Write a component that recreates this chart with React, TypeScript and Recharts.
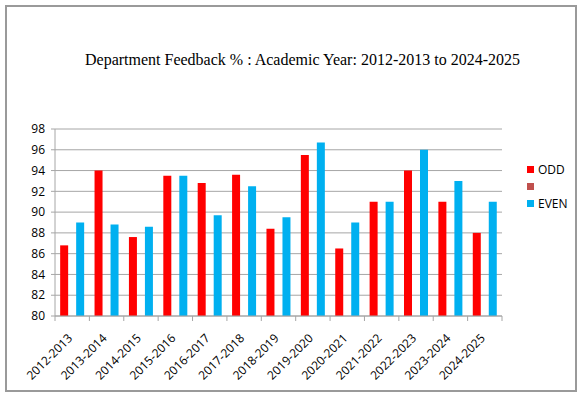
import React from 'react';
import { BarChart, Bar, XAxis, YAxis, CartesianGrid, Legend } from 'recharts';

const COLORS = {
  odd: '#ff0000',
  blank: '#c0504d',
  even: '#00b0f0',
  grid: '#a6a6a6',
  frame: '#9a9a9a',
  text: '#000000',
};

const years = [
  '2012-2013', '2013-2014', '2014-2015', '2015-2016', '2016-2017', '2017-2018', '2018-2019',
  '2019-2020', '2020-2021', '2021-2022', '2022-2023', '2023-2024', '2024-2025',
];
const oddValues = [86.8, 94, 87.6, 93.5, 92.8, 93.6, 88.4, 95.5, 86.5, 91, 94, 91, 88];
const evenValues = [89, 88.8, 88.6, 93.5, 89.7, 92.5, 89.5, 96.7, 89, 91, 96, 93, 91];
const yTicks = [80, 82, 84, 86, 88, 90, 92, 94, 96, 98];
const seriesOrder = ['odd', 'blank', 'even'];

const data = years.map((year, i) => ({
  year,
  odd: oddValues[i],
  blank: null,
  even: evenValues[i],
}));

const FONT = '"Open Sans", "Liberation Sans", sans-serif';

const XTick = (props: any) => {
  const { x, y, payload, index } = props;
  const half = payload.offset || 0;
  return (
    <g>
      <line x1={x - half} y1={y} x2={x - half} y2={y + 5} stroke={COLORS.grid} />
      {index === years.length - 1 && (
        <line x1={x + half} y1={y} x2={x + half} y2={y + 5} stroke={COLORS.grid} />
      )}
      <text
        x={x + 1}
        y={y + 23}
        textAnchor="end"
        transform={`rotate(-45, ${x + 1}, ${y + 23})`}
        fontSize={12}
        fontFamily={FONT}
        fill={COLORS.text}
      >
        {payload.value}
      </text>
    </g>
  );
};

const LegendContent = (props: any) => {
  const items = [...(props.payload || [])].sort(
    (a: any, b: any) => seriesOrder.indexOf(a.dataKey) - seriesOrder.indexOf(b.dataKey)
  );
  return (
    <div style={{ fontFamily: FONT, fontSize: 12 }}>
      {items.map((entry: any, i: number) => (
        <div key={i} style={{ display: 'flex', alignItems: 'center', height: 17 }}>
          <span style={{ width: 7, height: 7, backgroundColor: entry.color, display: 'inline-block', marginRight: 4 }} />
          <span>{entry.value}</span>
        </div>
      ))}
    </div>
  );
};

export default function App() {
  return (
    <div style={{ position: 'absolute', left: 0, top: 0, width: 583, height: 398, background: '#fff' }}>
      <div
        style={{
          position: 'absolute', left: 5, top: 5, width: 572, height: 387,
          border: `2px solid ${COLORS.frame}`, boxSizing: 'border-box',
        }}
      />
      <div
        style={{
          position: 'absolute', left: 0, top: 51, width: 605, textAlign: 'center',
          fontFamily: '"Liberation Serif", "Times New Roman", serif', fontSize: 16, color: '#000',
        }}
      >
        Department Feedback % : Academic Year: 2012-2013 to 2024-2025
      </div>
      <BarChart
        width={583}
        height={398}
        data={data}
        margin={{ top: 129, right: 25, left: 0, bottom: 0 }}
        barCategoryGap="15%"
        barGap={0}
        style={{ position: 'absolute', left: 0, top: 0 }}
      >
        <CartesianGrid vertical={false} stroke={COLORS.grid} />
        <XAxis
          dataKey="year"
          interval={0}
          height={82}
          tickLine={false}
          tickSize={0}
          tickMargin={0}
          stroke={COLORS.grid}
          tick={<XTick />}
        />
        <YAxis
          domain={[80, 98]}
          ticks={yTicks}
          interval={0}
          width={55}
          stroke={COLORS.grid}
          tickSize={4}
          tickMargin={6}
          tick={{ fill: COLORS.text, fontSize: 12, fontFamily: FONT }}
        />
        <Legend
          layout="horizontal"
          verticalAlign="middle"
          align="right"
          content={<LegendContent />}
          wrapperStyle={{ position: 'absolute', left: 527, top: 161, width: 56 }}
        />
        <Bar dataKey="odd" name="ODD" fill={COLORS.odd} isAnimationActive={false} />
        <Bar dataKey="blank" name="" fill={COLORS.blank} isAnimationActive={false} />
        <Bar dataKey="even" name="EVEN" fill={COLORS.even} isAnimationActive={false} />
      </BarChart>
    </div>
  );
}
